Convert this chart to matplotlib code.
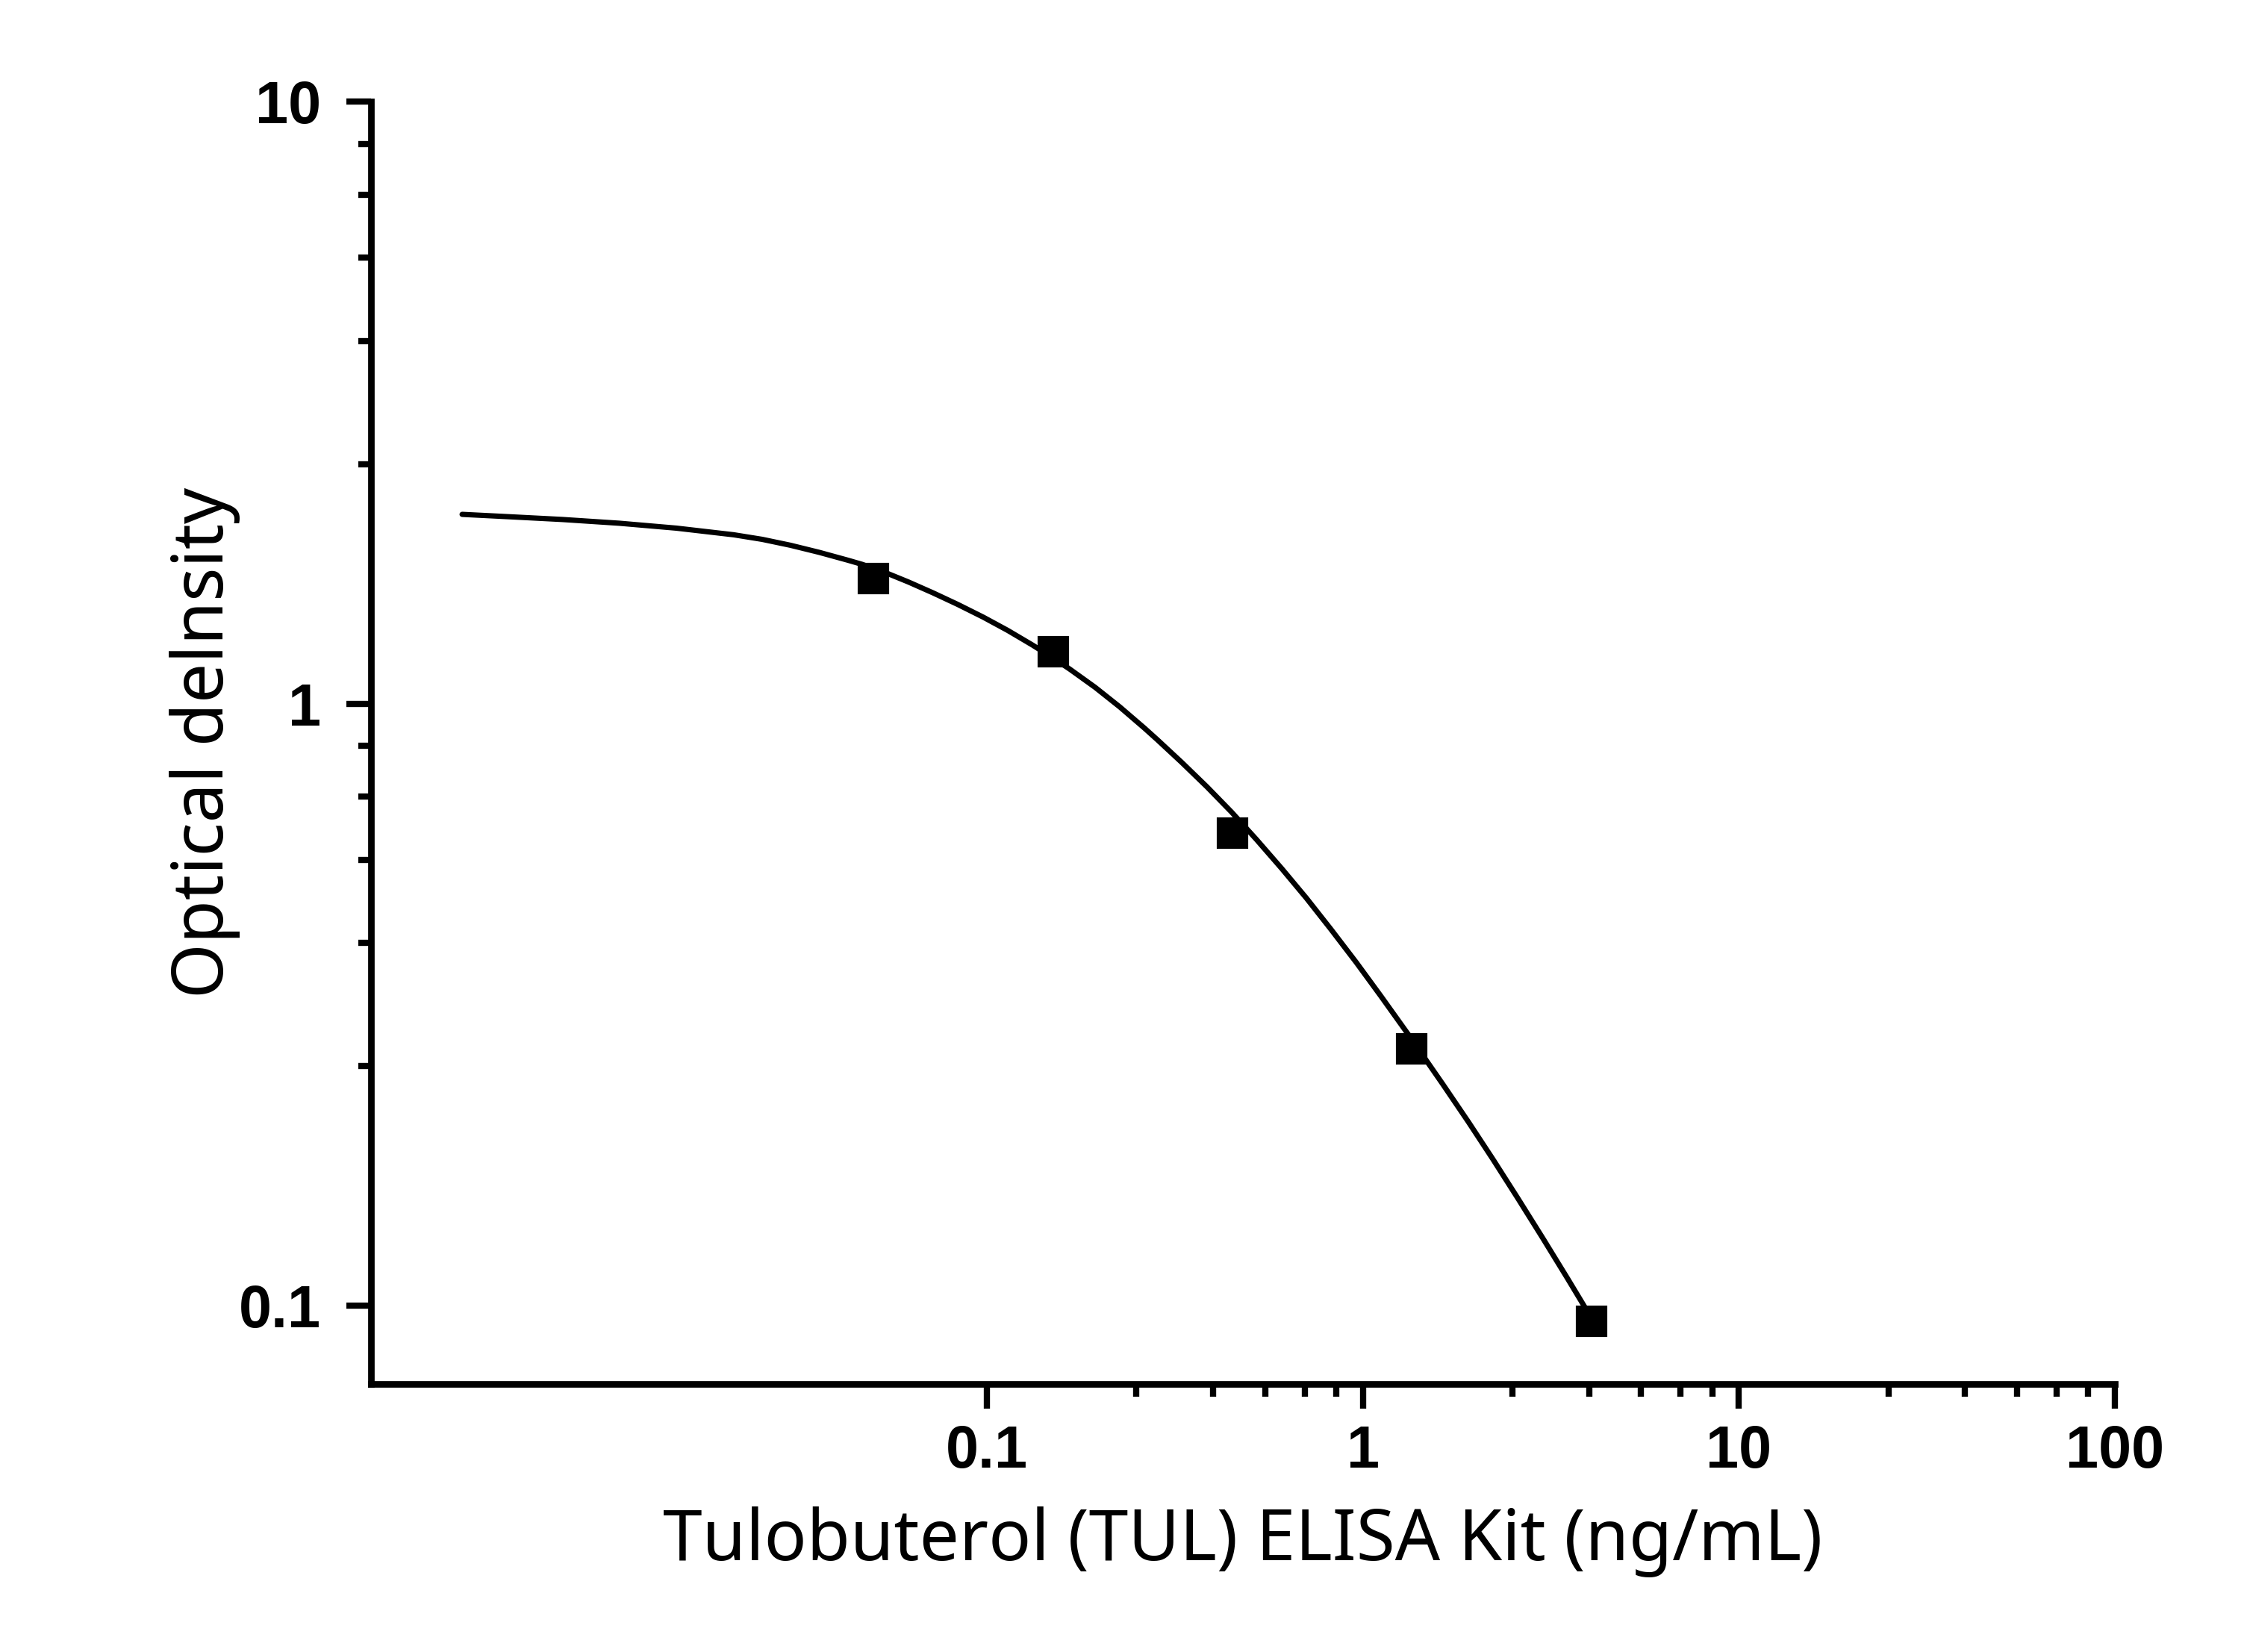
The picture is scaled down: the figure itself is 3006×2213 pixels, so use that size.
import numpy as np
import matplotlib
matplotlib.use("Agg")
import matplotlib.pyplot as plt

# measured standards
conc = [0.05, 0.15, 0.45, 1.35, 4.05]
od = [1.613, 1.219, 0.609, 0.267, 0.0942]

# fitted curve
fit_x = [0.00402, 0.00523, 0.00742, 0.01055, 0.01494, 0.02123, 0.02526, 0.03004,
         0.03583, 0.04273, 0.04660, 0.05467, 0.06186, 0.07194, 0.08368, 0.09774,
         0.1136, 0.1322, 0.1495, 0.1661, 0.1941, 0.2256, 0.2624, 0.2836, 0.3298,
         0.3853, 0.4479, 0.5208, 0.6085, 0.7076, 0.8228, 0.9612, 1.1176, 1.3239,
         1.633, 1.909, 2.219, 2.580, 3.014, 3.505, 3.930, 4.039]
fit_y = [2.062, 2.045, 2.022, 1.993, 1.956, 1.907, 1.874, 1.832,
         1.783, 1.730, 1.703, 1.643, 1.592, 1.527, 1.461, 1.392,
         1.323, 1.251, 1.192, 1.141, 1.064, 0.9875, 0.9106, 0.8717, 0.7986,
         0.7269, 0.6600, 0.5950, 0.5321, 0.4753, 0.4217, 0.3714, 0.3265, 0.2816,
         0.2331, 0.2019, 0.1750, 0.1510, 0.1293, 0.1109, 0.0985, 0.0958]

x_major = [0.1, 1, 10, 100]
x_labels = ["0.1", "1", "10", "100"]
y_major = [0.1, 1, 10]
y_labels = ["0.1", "1", "10"]
minor_steps = [2.5, 4, 5.5, 7, 8.5]

fig = plt.figure(figsize=(3006 / 300, 2213 / 300), dpi=300)
ax = fig.add_axes([0.1653, 0.16222, 0.7771, 0.77633])

ax.plot(fit_x, fit_y, color="black", lw=1.7, solid_capstyle="round",
        solid_joinstyle="round", zorder=2)
ax.plot(conc, od, "s", color="black", ms=9.3, zorder=3)

ax.set_xscale("log")
ax.set_yscale("log")
ax.set_xlim(0.0023, 100)
ax.set_ylim(0.0741, 10)

ax.set_xticks(x_major, x_labels)
ax.set_xticks([d * s for d in x_major[:-1] for s in minor_steps], minor=True)
ax.set_yticks(y_major, y_labels)
ax.set_yticks([d * s for d in y_major[:-1] for s in minor_steps], minor=True)
ax.xaxis.set_minor_formatter(plt.NullFormatter())
ax.yaxis.set_minor_formatter(plt.NullFormatter())

for side in ["top", "right"]:
    ax.spines[side].set_visible(False)
for side in ["left", "bottom"]:
    ax.spines[side].set_linewidth(2.1)

ax.tick_params(which="major", length=8, width=2, direction="out")
ax.tick_params(which="minor", length=4, width=2, direction="out")
ax.tick_params(axis="x", which="major", pad=5)
ax.tick_params(axis="y", which="major", pad=8)
for lab in ax.get_xticklabels() + ax.get_yticklabels():
    lab.set_fontfamily("Liberation Sans")
    lab.set_fontweight("bold")
    lab.set_fontsize(19)

ax.set_xlabel("Tulobuterol (TUL) ELISA Kit (ng/mL)", fontfamily="Noto Sans", fontsize=22.7)
ax.set_ylabel("Optical delnsity", fontfamily="Noto Sans", fontsize=22.7)
ax.xaxis.set_label_coords(0.5, -0.0955)
ax.yaxis.set_label_coords(-0.0749, 0.5)

fig.savefig("out.png", dpi=300)
